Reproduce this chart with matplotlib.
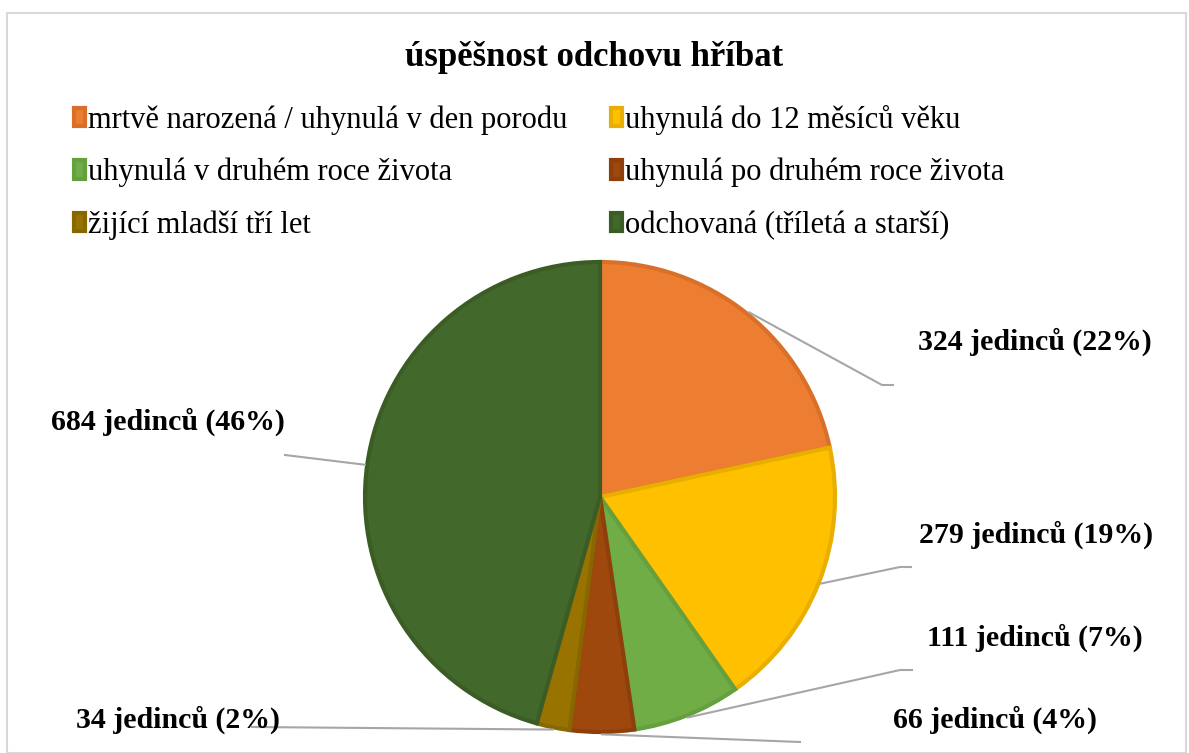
import numpy as np
import matplotlib.pyplot as plt
from matplotlib.lines import Line2D
from matplotlib.patches import Rectangle

plt.rcParams['font.family'] = ['Liberation Serif', 'DejaVu Serif']

# data
categories = ['mrtvě narozená / uhynulá v den porodu', 'uhynulá do 12 měsíců věku',
              'uhynulá v druhém roce života', 'uhynulá po druhém roce života',
              'žijící mladší tří let', 'odchovaná (tříletá a starší)']
counts = [324, 279, 111, 66, 34, 684]
percents = [22, 19, 7, 4, 2, 46]
title = 'úspěšnost odchovu hříbat'

colors = ['#ED7D31', '#FFC000', '#70AD47', '#9E480E', '#997300', '#43682B']
edges = ['#D9702A', '#E8AE00', '#64A03E', '#8E400C', '#886600', '#3B5D25']

W, H = 1189, 753
fig = plt.figure(figsize=(W / 100, H / 100), dpi=100)

# chart frame
fig.add_artist(Rectangle((7 / W, 0), 1179 / W, (H - 13) / H, transform=fig.transFigure,
                         fill=False, edgecolor='#d9d9d9', linewidth=1.5))

ax = fig.add_axes([365 / W, 21 / H, 470 / W, 470 / H])
wedges, _ = ax.pie(counts, colors=colors, startangle=90, counterclock=False,
                   wedgeprops=dict(linewidth=3))
for w, ec in zip(wedges, edges):
    w.set_edgecolor(ec)
    w.set_clip_on(False)
ax.set_xlim(-1, 1)
ax.set_ylim(-1, 1)
ax.set_aspect('equal')

fig.text(0.5, 1 - 57 / H, title, ha='center', va='center', fontsize=25,
         fontweight='bold')

# legend filled row by row, like the original
order = [0, 2, 4, 1, 3, 5]
leg = fig.legend([wedges[i] for i in order], [categories[i] for i in order],
                 ncol=2, loc='upper left',
                 bbox_to_anchor=(46 / W, 1 - 77 / H), frameon=False,
                 fontsize=22, handlelength=0.36, handleheight=0.55,
                 handletextpad=0.1, columnspacing=1.45, labelspacing=0.76)

# label positions (image pixels): text anchor, leader line kink and end
label_pos = [(918, 342, 'left', (882, 385), (893, 385)),
             (919, 535, 'left', (900, 567), (911, 567)),
             (927, 638, 'left', (900, 670), (912, 670)),
             (893, 720, 'left', (800, 742), (800, 742)),
             (280, 720, 'right', (252, 727), (252, 727)),
             (285, 422, 'right', (285, 455), (285, 455))]

cum = np.cumsum([0] + counts)
total = cum[-1]
for i, (tx, ty, ha, kink, end) in enumerate(label_pos):
    mid = 90 - 360 * (cum[i] + cum[i + 1]) / 2 / total
    a = np.deg2rad(mid)
    px, py = ax.transData.transform((np.cos(a) * 1.01, np.sin(a) * 1.01))
    xs = [px, kink[0], end[0]]
    ys = [py, H - kink[1], H - end[1]]
    fig.add_artist(Line2D(xs, ys, transform=None, color='#a6a6a6', linewidth=1.5))
    fig.text(tx / W, 1 - ty / H, '{} jedinců ({}%)'.format(counts[i], percents[i]),
             ha=ha, va='center', fontsize=21.5, fontweight='bold')

fig.savefig('out.png', dpi=100)
